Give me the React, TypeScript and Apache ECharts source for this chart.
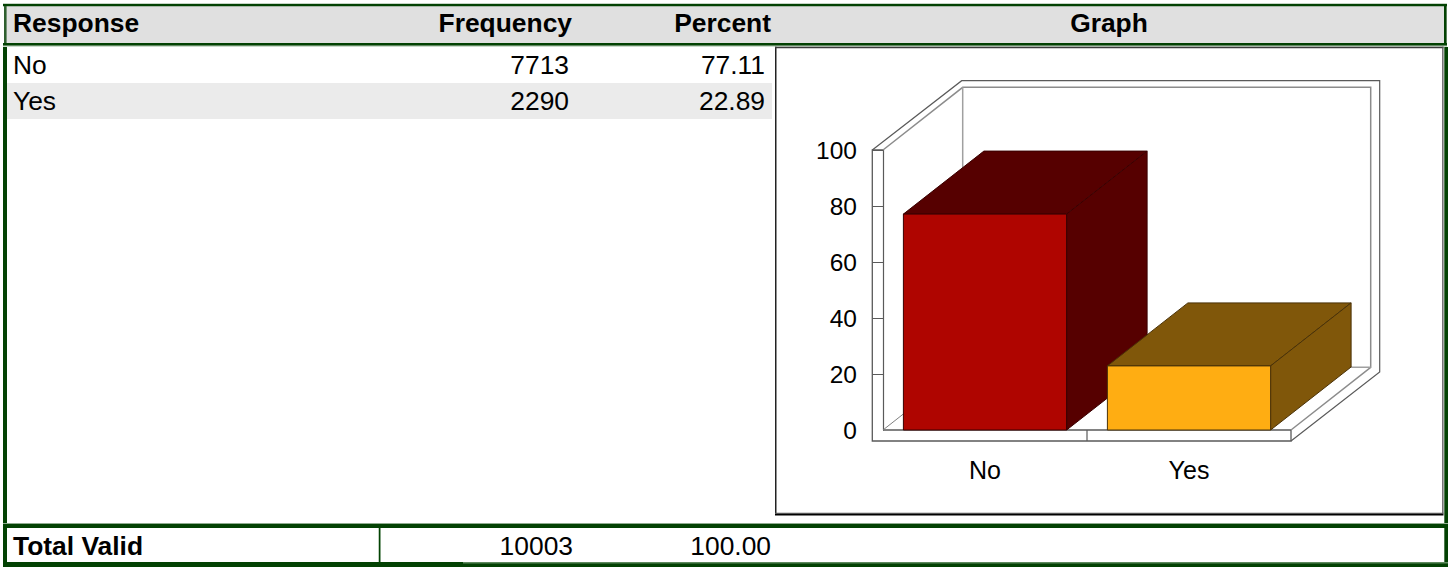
import React, { useEffect, useRef } from "react";
import * as echarts from "echarts";

const headers = ["Response", "Frequency", "Percent", "Graph"];
const categories = ["No", "Yes"];
const frequencies = ["7713", "2290"];
const percentLabels = ["77.11", "22.89"];
const percents = [77.11, 22.89];
const totals = ["Total Valid", "10003", "100.00"];
const yTicks = [20, 40, 60, 80, 100];
const frontColors = ["#AF0500", "#FFAD12"];
const darkColors = ["#560000", "#80570A"];
const edgeColors = ["#3A0000", "#4A3208"];

const FONT = '"Liberation Sans", Arial, sans-serif';
const GREEN = "#034203";
const HALO = "#8FAD8F";
const G = { left: 883, top: 150, width: 408, height: 280 };
const DX = 80.5;
const DY = 63;

const rect = (x: number, y: number, w: number, h: number, fill: string, z = 0) => ({
  type: "rect", silent: true, z, shape: { x, y, width: w, height: h }, style: { fill },
});
const text = (s: string, x: number, y: number, align: string, bold = false, size = 26.4) => ({
  type: "text", silent: true, z: 5, x, y,
  style: { text: s, fill: "#000", font: `${bold ? "bold " : ""}${size}px ${FONT}`, align, verticalAlign: "middle" },
});
const line = (pts: number[][], stroke: string, lineWidth = 1, z = 1) => ({
  type: "polyline", silent: true, z, shape: { points: pts }, style: { stroke, lineWidth, fill: "none" },
});

const R = G.left + G.width;
const B = G.top + G.height;

const graphicElements = [
  // table chrome
  rect(4, 6, 1443, 37, "#E0E0E0"),
  rect(3, 3.5, 1444, 0.7, HALO),
  rect(3, 4, 1444, 2.2, GREEN),
  rect(4, 6, 2.6, 38, "#2F5F2F"),
  rect(1444, 6, 2.6, 38, GREEN),
  rect(3, 43, 1444, 2.7, GREEN),
  rect(3, 45.7, 1444, 1, "#BBCFBB"),
  rect(3, 47, 4, 520, GREEN),
  rect(1444.3, 47, 3.7, 520, GREEN),
  rect(7, 83, 765, 36, "#EBEBEB"),
  rect(3, 523, 1445, 1, HALO),
  rect(3, 524, 1445, 4, GREEN),
  rect(3, 562, 1445, 5, GREEN),
  rect(463, 562, 985, 1.4, "#5F8A5F"),
  rect(378.4, 528, 2.4, 34, HALO),
  rect(379, 528, 1.2, 34, GREEN),
  // chart box
  rect(775, 46.7, 1.5, 467, "#222"),
  rect(775, 46.7, 668.5, 1.5, "#3A3A3A"),
  rect(1442.2, 46.7, 1.3, 467, "#555"),
  rect(775, 512.7, 668.5, 1.3, "#555"),
  rect(775, 514, 668.5, 1.4, "#000"),
  // walls and floor of the 3D frame
  line([[G.left, G.top], [G.left - 10.7, G.top], [G.left - 10.7, B + 11], [R, B + 11], [R, B], [G.left, B]], "#5A5A5A", 1.3),
  line([[G.left - 10.7, G.top], [961.7, 80.7], [1379.7, 80.7], [1379.7, 372], [R, B + 11]], "#5A5A5A", 1.2),
  line([[G.left, G.top], [962.7, 87.3], [1370.7, 87.3], [1370.7, 367.3], [R, B]], "#8C8C8C", 1.5),
  line([[962.7, 87.3], [962.7, 367.3], [1370.7, 367.3]], "#A0A0A0", 1.5),
  line([[G.left, B], [962.7, 367.3]], "#808080", 1),
  line([[G.left + G.width / 2, B], [G.left + G.width / 2, B + 11]], "#5A5A5A", 1.2),
  // table text
  text(headers[0], 13, 23, "left", true),
  text(headers[1], 572, 23, "right", true),
  text(headers[2], 771, 23, "right", true),
  text(headers[3], 1109, 23, "center", true),
  ...categories.flatMap((c, i) => [
    text(c, 13, 65 + i * 36, "left"),
    text(frequencies[i], 569, 65 + i * 36, "right"),
    text(percentLabels[i], 765, 65 + i * 36, "right"),
  ]),
  text(totals[0], 13, 546, "left", true),
  text(totals[1], 573, 546, "right"),
  text(totals[2], 771, 546, "right"),
];

const renderBar = (params: any, api: any) => {
  const i = params.dataIndex;
  const top = api.coord([api.value(0), api.value(1)]);
  const base = api.coord([api.value(0), 0]);
  const w = api.size([1, 0])[0] * 0.8;
  const l = top[0] - w / 2;
  const r = top[0] + w / 2;
  const t = top[1];
  const b = base[1];
  const st = (fill: string) => ({ fill, stroke: edgeColors[i], lineWidth: 1 });
  return {
    type: "group",
    children: [
      { type: "polygon", shape: { points: [[l, t], [l + DX, t - DY], [r + DX, t - DY], [r, t]] }, style: st(darkColors[i]) },
      { type: "polygon", shape: { points: [[r, t], [r + DX, t - DY], [r + DX, b - DY], [r, b]] }, style: st(darkColors[i]) },
      { type: "polygon", shape: { points: [[l, t], [r, t], [r, b], [l, b]] }, style: st(frontColors[i]) },
    ],
  };
};

export default function App() {
  const ref = useRef<HTMLDivElement>(null);
  useEffect(() => {
    const chart = echarts.init(ref.current!, null, { renderer: "svg" });
    chart.setOption({
      animation: false,
      backgroundColor: "#fff",
      grid: { left: G.left, top: G.top, width: G.width, height: G.height },
      xAxis: {
        type: "category",
        data: categories,
        axisLine: { show: false },
        axisTick: { show: false },
        axisLabel: { color: "#000", fontFamily: FONT, fontSize: 25, margin: 27 },
      },
      yAxis: {
        type: "value",
        min: 0,
        max: 100,
        interval: 20,
        splitLine: { show: false },
        axisLine: { show: true, lineStyle: { color: "#5A5A5A", width: 1.2 } },
        axisTick: { show: true, length: 10.7, customValues: yTicks, lineStyle: { color: "#5A5A5A", width: 1 } },
        axisLabel: { color: "#000", fontFamily: FONT, fontSize: 24.5, margin: 26 },
      },
      graphic: { elements: graphicElements },
      series: [
        {
          type: "custom",
          clip: false,
          renderItem: renderBar,
          data: percents.map((v, i) => [i, v]),
          encode: { x: 0, y: 1 },
        },
      ],
    });
    return () => chart.dispose();
  }, []);
  return <div ref={ref} style={{ position: "absolute", left: 0, top: 0, width: 1448, height: 567 }} />;
}
